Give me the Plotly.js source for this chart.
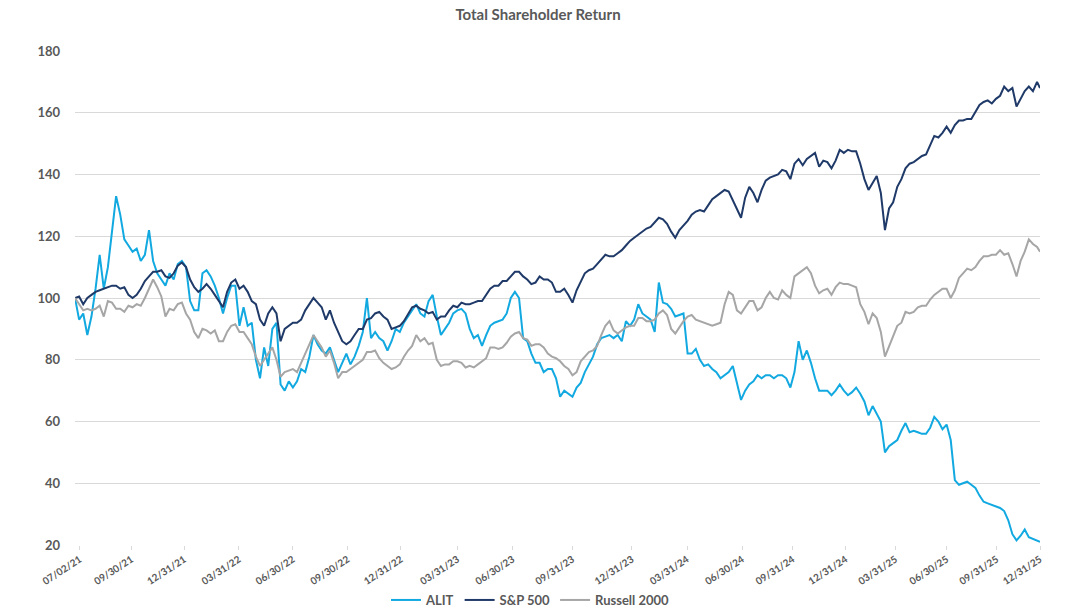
<!DOCTYPE html>
<html>
<head>
<meta charset="utf-8">
<script src="https://cdn.plot.ly/plotly-3.0.1.min.js"></script>
<style>html,body{margin:0;padding:0;background:#fff}#chart{width:1068px;height:611px}</style>
</head>
<body>
<div id="chart"></div>
<script>
// Weekly observations starting 07/02/21, final observation 12/31/25
const startDate = '2021-07-02';
const endDate = '2025-12-31';

const alit = [
100,93,95,88,94,103,114,103,110,121,
133,127,119,117,115,116,112,114,122,112,
108,106,104,108,106,111,112,110,99,96,
96,108,109,107,104,100,95,100,104,104,
91,97,91,92,80,74,84,78,90,92,
72,70,73,71,73,77,76,81,88,85,
83,82,84,80,76,79,82,78.5,81,84.5,
89,100,87,89,87,86,83,86,90,89,
92,94,96,98,95,94,99,101,94,88,
90,92,95,96,96.5,95,90,87,88,84.5,
88,91,92,92.5,93,95,100,102,100,87,
86,82,79,79,76,77,77,74,68,70,
69,68,71,72.5,76,78.5,81,85,87,87.5,
88,87,88,86,92.5,91,93,98,95,94,
93,89,105,98.5,98,96.5,94,94.5,95,82,
82,83.5,80,78,78.5,77,76,74,75,76,
78,72,67,70,72,73,75,74,75,75,
74,75,75,74,71,76,86,80,83,79,
74,70,70,70,68.5,70,72,70,68.5,69.5,
71,69,66.5,62,65,62.5,60,50,52,53,
54,57,59.5,56.5,57,56.5,56,56,58,61.5,
60,57.5,59,54,41,39.5,40,40.5,39.5,38.5,
36,34,33.5,33,32.5,32,31,28,23.5,21.5,
23,25,22.5,22,21.5,21
];

const sp500 = [
100,100.5,98,100,101,102,102.5,103,103.5,104,
104,103,103.5,101,100,101,103,105.5,107,108.5,
108.5,109,107,106.5,108,110.5,111.5,110,106,103.5,
102,103,104.5,103,101,99,97,102,105,106,
103,104,102,99,98,93,91,95,97,95,
86,90,91,92,92,93,96,98,100,98.5,
97,93,96,92,89,86,85,86,88,90,
90,93,93.5,95,95.5,94,93,90,90.5,91,
92.5,95,97,97.5,96.5,96,95,95.5,93,94,
94,96,97.5,97,98.5,98,98,98.5,99,99,
101,103,104,104,105.5,105.5,107,108.5,108.5,107,
106,104.5,105,107,106,106,105,102,102,103,
101,98.5,102.5,105,108,109,109.5,111,112.5,114,
113.5,113.5,114.5,115.5,117,118.5,119.5,120.5,121.5,122.5,
123,124.5,126,125.5,124,121.5,119.5,122,123.5,125,
127,128,128.5,128,130,132,133,134,135,134.5,
131.5,129,126,132.5,136,134,131,135,138,139,
139.5,140,141.5,141,138.5,143.5,145,143,145,146,
147,142.5,144.5,144,142,144.5,148,147,148,147.5,
147.5,143.5,138.5,135,137.5,139.5,134,122,129,131,
136,138.5,142,143.5,144,145,146,146.5,149.5,152.5,
152,153.5,155.5,153.5,156,157.5,157.5,158,158,160.5,
162.5,163.5,164,163,164.5,165.5,168.5,167,168,162,
164.5,167,168.5,167,170,168
];

const russell2000 = [
100,98,96,96.5,96,96.5,97.5,94,99,98.5,
96.5,96.5,95.5,97.5,97,98,97.5,100,103,106,
103.5,100.5,94,96.5,96,98,98.5,95,93,89,
87,90,89.5,88.5,89.5,86,86,89,91,91.5,
89,89,87,85,81,78,80,82,84,80,
74.5,76,76.5,77,76,79,82,85,88,86,
84,81,83,79,74,76,76,77,78,79,
80,82.5,82.5,83,80.5,79,78,77,77.5,78.5,
81,83,84.5,88,86,87,85,85.5,80,78,
78.5,78.5,79.5,79.5,79,77.5,78,77.5,78.5,79.5,
80.5,84,84,83.5,84,85.5,87.5,88.5,89,87,
86.5,84.5,85,85,84,82,81,80.5,79.5,78,
77,75,76,79.5,81,82.5,83,84.5,88,91,
92.5,89.5,88.5,89.5,90.5,91,91,93.5,93.5,92.5,
92.5,93,95,96,94.5,90,88.5,90.5,92.5,94,
94.5,93,92.5,92,91.5,91,91.5,92,98,102,
101,96,95,97,99,99,96,97,100,102,
100,99.5,102.5,101,100,107,108,109,110,108,
104,101.5,102.5,103,101,103.5,105,104.5,104.5,104,
103.5,98,95.5,91.5,95,93.5,89,81,84.5,88,
91,92,95.5,95,95.5,97,97.5,97.5,99.5,101,
102,103,103,100,102.5,106.5,108,109.5,109,110,
112,113.5,113.5,114,114,115.5,114,114.5,111,107,
112,115,119,117.5,116.5,115
];

// where the reference places its (category-axis) labels along the time line
const tickDates = ['2021-07-10','2021-10-06','2022-01-04','2022-04-07','2022-07-08','2022-10-09',
  '2023-01-08','2023-04-14','2023-07-17','2023-10-27','2024-02-05','2024-05-09','2024-08-11',
  '2024-11-05','2025-02-03','2025-04-29','2025-07-25','2025-10-18','2025-12-31'];
const tickLabels = ['07/02/21','09/30/21','12/31/21','03/31/22','06/30/22','09/30/22',
  '12/31/22','03/31/23','06/30/23','09/31/23','12/31/23','03/31/24','06/30/24',
  '09/31/24','12/31/24','03/31/25','06/30/25','09/31/25','12/31/25'];

// build the weekly date categories
const n = alit.length;
const t0 = Date.parse(startDate + 'T00:00:00Z');
const dates = [];
for (let i = 0; i < n - 1; i++) {
  dates.push(new Date(t0 + i * 7 * 86400000).toISOString().slice(0, 10));
}
dates.push(endDate);

const font = "Lato, 'Open Sans', 'DejaVu Sans', sans-serif";
const grey = '#595959';

const traces = [
  {x: dates, y: alit, name: 'ALIT', type: 'scatter', mode: 'lines',
   line: {color: '#12A9E1', width: 2}},
  {x: dates, y: sp500, name: 'S&P 500', type: 'scatter', mode: 'lines',
   line: {color: '#1F3A68', width: 2}},
  {x: dates, y: russell2000, name: 'Russell 2000', type: 'scatter', mode: 'lines',
   line: {color: '#A6A6A6', width: 2}}
];

const layout = {
  width: 1068, height: 611,
  margin: {l: 75, r: 28, t: 51, b: 66},
  paper_bgcolor: '#fff', plot_bgcolor: '#fff',
  title: {text: '<b>Total Shareholder Return</b>', x: 538/1068, xref: 'container', xanchor: 'center',
          y: 1 - 15/611, yref: 'container', yanchor: 'middle',
          font: {family: font, size: 15, color: grey}},
  showlegend: true,
  legend: {orientation: 'h', x: 0.472, xanchor: 'center', xref: 'paper',
           y: 11/611, yref: 'container', yanchor: 'middle', itemwidth: 30,
           font: {family: font, size: 13, color: grey, weight: 'bold'}, traceorder: 'normal'},
  xaxis: {type: 'date', range: [startDate, endDate], automargin: false,
          tickmode: 'array', tickvals: tickDates, ticktext: tickLabels,
          tickangle: -33, showgrid: false, zeroline: false, showline: false,
          ticks: 'outside', ticklen: 4, tickcolor: '#D9D9D9',
          tickfont: {family: font, size: 10, color: grey, weight: 'bold'}},
  yaxis: {range: [20, 180], automargin: false, tickmode: 'array', tickvals: [20,40,60,80,100,120,140,160,180],
          showgrid: true, gridcolor: '#D9D9D9', gridwidth: 1, zeroline: false, showline: false,
          ticks: '', ticklabelstandoff: 14,
          tickfont: {family: font, size: 13, color: grey, weight: 'bold'}}
};

Plotly.newPlot('chart', traces, layout, {displayModeBar: false, staticPlot: true});
</script>
</body>
</html>
